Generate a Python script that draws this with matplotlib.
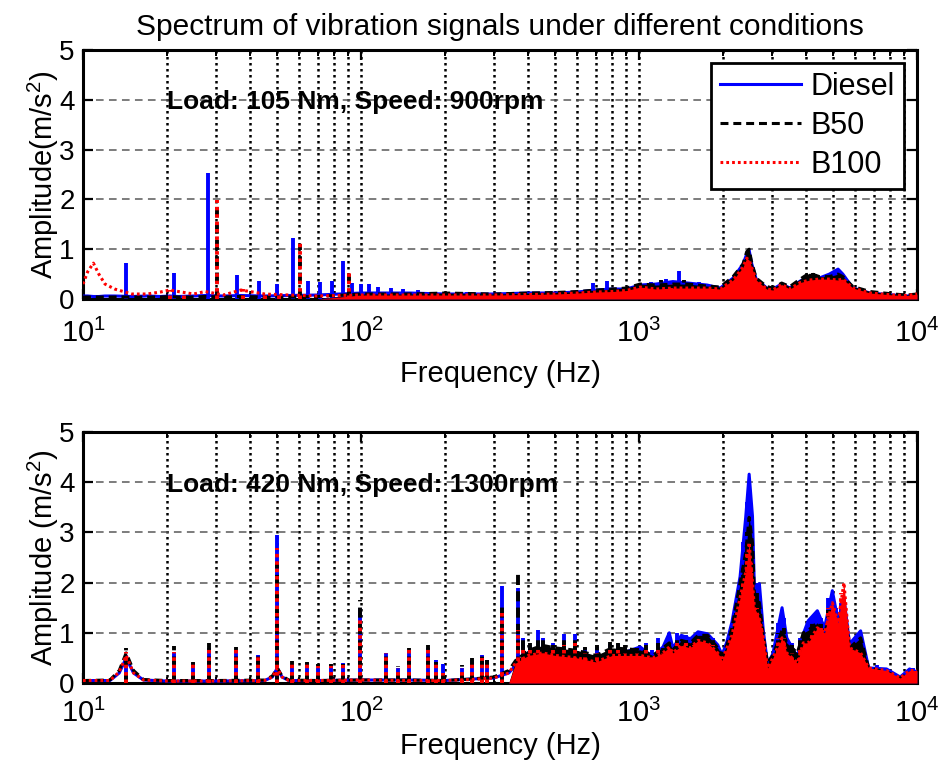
import numpy as np
import matplotlib
matplotlib.use("Agg")
import matplotlib.pyplot as plt
from matplotlib.ticker import LogLocator, NullFormatter

plt.rcParams['font.family'] = ['Liberation Sans', 'DejaVu Sans']
plt.rcParams['mathtext.fontset'] = 'custom'
plt.rcParams['mathtext.rm'] = 'Liberation Sans'
plt.rcParams['mathtext.it'] = 'Liberation Sans:italic'
plt.rcParams['mathtext.bf'] = 'Liberation Sans:bold'

SERIES = ['Diesel', 'B50', 'B100']

# ---------------- Load 105 Nm, 900 rpm ----------------
TOP_ENV_F = [10, 10.4, 10.9, 11.4, 12.0, 13.0, 15.0, 17.0, 19.0, 20.5, 22.0, 25.0,
             27.5, 32.0, 37.0, 45.0, 55.0, 70.0, 100, 150, 200, 300, 400, 500,
             600, 700, 800, 900, 1010, 1150, 1324, 1500, 1758, 1960, 2180, 2366,
             2440, 2490, 2540, 2640, 2880, 3030, 3260, 3490, 3800, 4100, 4450,
             4840, 5200, 5410, 5880, 6780, 8220, 9200, 10000]
TOP_ENV_DIESEL = [0.06, 0.06, 0.05, 0.05, 0.06, 0.06, 0.05, 0.06, 0.05, 0.06, 0.05, 0.06,
                  0.07, 0.06, 0.07, 0.06, 0.07, 0.08,
                  0.12, 0.12, 0.10, 0.10, 0.12, 0.12, 0.14, 0.18, 0.20, 0.20,
                  0.28, 0.30, 0.35, 0.32, 0.28, 0.22, 0.42, 0.70, 0.90, 0.98,
                  0.72, 0.40, 0.22, 0.20, 0.30, 0.22, 0.36, 0.45, 0.42, 0.50,
                  0.60, 0.50, 0.22, 0.12, 0.08, 0.06, 0.08]
TOP_ENV_B50 = [0.04, 0.04, 0.04, 0.04, 0.04, 0.04, 0.04, 0.04, 0.04, 0.05, 0.04, 0.04,
               0.05, 0.04, 0.05, 0.04, 0.04, 0.05,
               0.10, 0.10, 0.12, 0.10, 0.12, 0.13, 0.15, 0.18, 0.20, 0.22,
               0.30, 0.28, 0.30, 0.30, 0.26, 0.24, 0.45, 0.70, 0.95, 1.00,
               0.75, 0.42, 0.25, 0.22, 0.32, 0.25, 0.40, 0.52, 0.45, 0.45,
               0.50, 0.45, 0.25, 0.15, 0.10, 0.08, 0.10]
TOP_ENV_B100 = [0.30, 0.55, 0.72, 0.50, 0.30, 0.20, 0.10, 0.10, 0.14, 0.18, 0.15, 0.10,
                0.15, 0.08, 0.18, 0.10, 0.08, 0.06,
                0.08, 0.08, 0.08, 0.08, 0.09, 0.10, 0.12, 0.14, 0.15, 0.17,
                0.24, 0.20, 0.22, 0.22, 0.22, 0.20, 0.38, 0.64, 0.82, 0.78,
                0.64, 0.38, 0.20, 0.18, 0.29, 0.20, 0.33, 0.38, 0.40, 0.40,
                0.38, 0.40, 0.22, 0.12, 0.08, 0.07, 0.10]

TOP_PEAK_F_DIESEL = [14.3, 21.2, 28.2, 35.8, 43, 50, 56.9, 64.4, 71, 78.6, 86.1, 93,
                     100, 107, 115, 128, 142, 160, 185, 240, 300, 380, 480, 684,
                     768, 1100, 1250, 1394, 1650, 3300, 4300, 5200]
TOP_PEAK_A_DIESEL = [0.72, 0.52, 2.52, 0.48, 0.36, 0.30, 1.22, 0.36, 0.35, 0.36, 0.76, 0.32,
                     0.30, 0.30, 0.25, 0.22, 0.20, 0.18, 0.15, 0.15, 0.12, 0.15, 0.14, 0.32,
                     0.36, 0.35, 0.40, 0.56, 0.35, 0.30, 0.50, 0.60]
TOP_PEAK_F_B50 = [30.3, 60.3, 90.6, 1200, 1450, 2600, 4227]
TOP_PEAK_A_B50 = [1.95, 1.10, 0.50, 0.38, 0.38, 0.60, 0.52]
TOP_PEAK_F_B100 = [20.5, 23, 30.3, 37.5, 45, 50.5, 60.3, 90.6, 1300, 3300]
TOP_PEAK_A_B100 = [0.18, 0.15, 1.98, 0.20, 0.15, 0.12, 1.12, 0.54, 0.30, 0.28]
TOP_FILL_FROM = 100

# ---------------- Load 420 Nm, 1300 rpm ----------------
BOT_ENV_F = [10, 12.5, 13.5, 14.3, 15.2, 16.5, 20, 30, 45, 48, 50, 52, 55, 70, 100,
             150, 200, 250, 300, 340, 360, 400, 450, 500, 600, 700, 800, 900,
             1010, 1120, 1220, 1285, 1324, 1420, 1530, 1630, 1765, 1920, 1990,
             2070, 2160, 2310, 2420, 2490, 2560, 2600, 2710, 2800, 2900, 3030,
             3270, 3400, 3710, 3900, 4060, 4380, 4650, 4960, 5200, 5460, 5720,
             6270, 6700, 7770, 8700, 9400, 10000]
BOT_ENV_DIESEL = [0.05, 0.05, 0.20, 0.50, 0.20, 0.06, 0.04, 0.04, 0.05, 0.12, 0.30, 0.12,
                  0.05, 0.05, 0.06, 0.06, 0.05, 0.08, 0.10, 0.20, 0.35, 0.60, 0.70,
                  0.65, 0.60, 0.50, 0.60, 0.62, 0.72, 0.52, 0.72, 1.00, 0.70, 0.95,
                  0.88, 1.02, 0.98, 0.76, 0.56, 0.82, 1.22, 2.12, 3.30, 4.16, 3.32,
                  1.90, 1.98, 1.04, 0.38, 0.58, 1.50, 0.90, 0.52, 0.98, 1.24, 1.44,
                  1.10, 1.84, 1.24, 1.70, 0.78, 1.04, 0.30, 0.28, 0.12, 0.28, 0.22]
BOT_ENV_B50 = [0.05, 0.06, 0.25, 0.60, 0.25, 0.07, 0.05, 0.05, 0.06, 0.14, 0.30, 0.14,
               0.06, 0.05, 0.06, 0.06, 0.05, 0.08, 0.12, 0.25, 0.45, 0.65, 0.75,
               0.70, 0.65, 0.55, 0.70, 0.68, 0.66, 0.55, 0.70, 0.80, 0.66, 0.85,
               0.80, 0.95, 0.95, 0.70, 0.55, 0.75, 1.10, 2.00, 2.60, 3.30, 2.80,
               1.80, 1.60, 0.95, 0.40, 0.55, 1.05, 0.80, 0.60, 1.00, 1.05, 1.20,
               1.00, 1.50, 1.10, 1.60, 0.70, 0.90, 0.30, 0.22, 0.10, 0.20, 0.20]
BOT_ENV_B100 = [0.05, 0.05, 0.22, 0.55, 0.20, 0.06, 0.04, 0.04, 0.05, 0.12, 0.30, 0.12,
                0.05, 0.05, 0.06, 0.05, 0.05, 0.07, 0.10, 0.20, 0.40, 0.55, 0.60,
                0.55, 0.50, 0.42, 0.55, 0.55, 0.55, 0.50, 0.60, 0.72, 0.60, 0.75,
                0.70, 0.85, 0.80, 0.60, 0.45, 0.70, 0.95, 1.70, 2.20, 2.80, 2.00,
                1.50, 1.30, 0.90, 0.30, 0.50, 0.90, 0.60, 0.40, 0.80, 0.80, 1.10,
                1.00, 1.60, 1.20, 2.00, 0.70, 0.60, 0.30, 0.25, 0.10, 0.25, 0.25]

BOT_PEAK_F = [14.3, 21.2, 24.9, 28.4, 35.5, 42.6, 50, 56.4, 64, 70, 78, 86, 99,
              123, 136, 149, 174, 186, 198, 230, 250, 272, 283, 321, 367, 382,
              405, 433, 450, 491, 537, 590, 640, 708, 785, 840, 890, 980, 1110,
              1220, 1285,
              1060, 1170, 1370, 1480, 1580, 1700, 1850, 2240, 2370, 2450, 2530,
              2660, 2750, 3150, 3330, 3550, 3800, 4200, 4500, 4800, 5100, 5350,
              5600, 6000, 6400, 7200, 9700]
BOT_PEAK_A_DIESEL = [0.55, 0.60, 0.40, 0.70, 0.65, 0.55, 2.94, 0.35, 0.40, 0.30, 0.35, 0.40,
                     1.50, 0.60, 0.30, 0.65, 0.70, 0.45, 0.38, 0.30, 0.45, 0.55, 0.45,
                     1.94, 1.90, 0.90, 0.75, 1.06, 0.90, 0.80, 0.98, 0.98, 0.70, 0.72,
                     0.78, 0.78, 0.72, 0.72, 0.65, 0.72, 1.00,
                     0.80, 0.90, 1.00, 0.95, 0.90, 1.00, 0.90, 1.50, 2.80, 3.60, 3.30,
                     2.00, 1.50, 1.20, 1.30, 0.80, 0.90, 1.30, 1.30, 1.70, 1.50, 1.60,
                     1.00, 0.90, 0.60, 0.35, 0.30]
BOT_PEAK_A_B50 = [0.70, 0.74, 0.42, 0.80, 0.72, 0.58, 2.40, 0.44, 0.42, 0.38, 0.37, 0.38,
                  1.66, 0.64, 0.34, 0.70, 0.76, 0.42, 0.20, 0.35, 0.50, 0.55, 0.45,
                  1.60, 2.22, 0.85, 0.80, 0.95, 0.85, 0.75, 0.90, 0.95, 0.72, 0.75,
                  0.82, 0.80, 0.75, 0.70, 0.62, 0.70, 0.80,
                  0.75, 0.80, 0.90, 0.90, 0.85, 0.95, 0.85, 1.40, 2.30, 3.00, 2.80,
                  1.80, 1.30, 1.00, 1.10, 0.75, 0.90, 1.20, 1.20, 1.45, 1.30, 1.40,
                  0.90, 0.80, 0.50, 0.30, 0.25]
BOT_PEAK_A_B100 = [0.62, 0.62, 0.38, 0.70, 0.68, 0.52, 2.68, 0.38, 0.38, 0.34, 0.34, 0.35,
                   1.30, 0.60, 0.30, 0.70, 0.70, 0.40, 0.20, 0.30, 0.40, 0.50, 0.40,
                   1.45, 1.06, 0.70, 0.65, 0.70, 0.60, 0.65, 0.75, 0.80, 0.60, 0.60,
                   0.70, 0.65, 0.60, 0.60, 0.55, 0.60, 0.70,
                   0.65, 0.70, 0.80, 0.80, 0.75, 0.85, 0.75, 1.20, 2.00, 2.60, 2.40,
                   1.50, 1.10, 0.90, 0.90, 0.60, 0.70, 1.00, 1.10, 1.50, 1.30, 1.80,
                   0.80, 0.60, 0.45, 0.30, 0.28]
BOT_FILL_FROM = 345

X_LIMITS = (10, 10000)
Y_LIMITS = (0, 5)
Y_TICKS = [0, 1, 2, 3, 4, 5]

STYLE = {
    'Diesel': dict(color='#0000ff', ls='-'),
    'B50': dict(color='#000000', ls=(0, (2.6, 1.6))),
    'B100': dict(color='#ff0000', ls=(0, (0.9, 1.0))),
}
LW = 2.2
SPIKE_LW = 2.8


def draw_panel(ax, env_f, env, peaks, fill_from, with_labels):
    f = np.asarray(env_f, dtype=float)
    for k, name in enumerate(SERIES):
        st = STYLE[name]
        z = 3 + k
        a = np.asarray(env[name], dtype=float)
        ax.fill_between(f, 0, a, where=f >= fill_from, interpolate=True,
                        color=st['color'], lw=0, zorder=z)
        ax.plot(f, a, color=st['color'], ls=st['ls'], lw=LW, zorder=z,
                label=name if with_labels else None)
        pf, pa = peaks[name]
        ax.vlines(pf, 0, pa, colors=st['color'], linestyles=[st['ls']],
                  lw=SPIKE_LW, zorder=z)


def style_axes(ax, ylabel, note, xpad, xlabelpad):
    ax.set_xscale('log')
    ax.set_xlim(*X_LIMITS)
    ax.set_ylim(*Y_LIMITS)
    ax.set_yticks(Y_TICKS)
    ax.xaxis.set_major_locator(LogLocator(base=10, numticks=10))
    ax.xaxis.set_minor_locator(LogLocator(base=10, subs=np.arange(2, 10), numticks=20))
    ax.xaxis.set_minor_formatter(NullFormatter())
    ax.set_axisbelow(True)
    ax.grid(True, which='both', axis='x', color='black',
            ls=(0, (1.0, 1.4)), lw=1.8)
    ax.grid(True, which='major', axis='y', color='0.35',
            ls=(0, (5, 3.5)), lw=1.1)
    for s in ax.spines.values():
        s.set_linewidth(2.2)
    ax.tick_params(which='major', direction='in', length=7, width=1.6,
                   top=True, right=True, labelsize=20, pad=6)
    ax.tick_params(which='minor', direction='in', length=4, width=1.4,
                   top=True, right=True)
    ax.tick_params(axis='x', which='major', pad=xpad, labelsize=21)
    ax.set_xlabel('Frequency (Hz)', fontsize=21, labelpad=xlabelpad)
    ax.set_ylabel(ylabel, fontsize=21, labelpad=-1)
    ax.text(20, 3.95, note, fontsize=19, fontweight='bold', ha='left',
            va='center', zorder=10)


fig = plt.figure(figsize=(9.41, 7.76), dpi=100)
ax1 = fig.add_axes([0.0882, 0.6147, 0.8863, 0.3209])
ax2 = fig.add_axes([0.0882, 0.1198, 0.8863, 0.3235])

draw_panel(ax1, TOP_ENV_F,
           {'Diesel': TOP_ENV_DIESEL, 'B50': TOP_ENV_B50, 'B100': TOP_ENV_B100},
           {'Diesel': (TOP_PEAK_F_DIESEL, TOP_PEAK_A_DIESEL),
            'B50': (TOP_PEAK_F_B50, TOP_PEAK_A_B50),
            'B100': (TOP_PEAK_F_B100, TOP_PEAK_A_B100)},
           TOP_FILL_FROM, True)
style_axes(ax1, 'Amplitude(m/s$^2$)', 'Load: 105 Nm, Speed: 900rpm', 14, 9)
ax1.set_title('Spectrum of vibration signals under different conditions',
              fontsize=21.5, pad=11)

draw_panel(ax2, BOT_ENV_F,
           {'Diesel': BOT_ENV_DIESEL, 'B50': BOT_ENV_B50, 'B100': BOT_ENV_B100},
           {'Diesel': (BOT_PEAK_F, BOT_PEAK_A_DIESEL),
            'B50': (BOT_PEAK_F, BOT_PEAK_A_B50),
            'B100': (BOT_PEAK_F, BOT_PEAK_A_B100)},
           BOT_FILL_FROM, False)
style_axes(ax2, 'Amplitude (m/s$^2$)', 'Load: 420 Nm, Speed: 1300rpm', 11, 3)

leg = ax1.legend(loc='upper right', fontsize=22, frameon=True, fancybox=False,
                 edgecolor='black', framealpha=1, borderaxespad=0.42,
                 handlelength=2.65, handletextpad=0.33, labelspacing=0.29,
                 borderpad=0.3)
leg.get_frame().set_linewidth(2.0)
leg.set_zorder(20)

fig.savefig('out.png', dpi=100)
